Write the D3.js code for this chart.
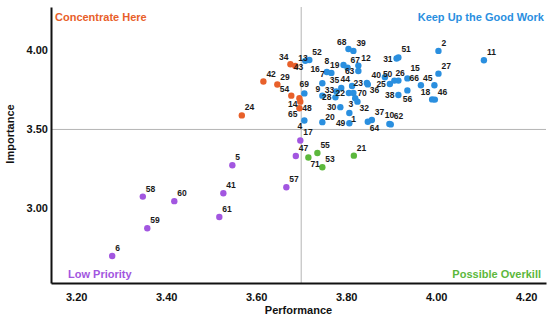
<!DOCTYPE html>
<html>
<head>
<meta charset="utf-8">
<script src="https://cdn.jsdelivr.net/npm/d3@7"></script>
<style>
  body { margin: 0; background: #fff; }
  svg { display: block; font-family: Arial, "Liberation Sans", sans-serif; }
</style>
</head>
<body>
<svg id="chart" width="550" height="320"></svg>
<script>
// item numbers, mean performance and mean importance
const ids = d3.range(1, 72);
const performance = [
  3.807, 4.005, 3.820, 3.707, 3.547, 3.280, 3.747, 3.767, 3.747, 3.896,
  4.106, 3.827, 3.687, 3.696, 3.936, 3.757, 3.698, 3.991, 3.794, 3.747,
  3.817, 3.806, 3.846, 3.568, 3.897, 3.916, 4.005, 3.776, 3.647, 3.787,
  3.912, 3.825, 3.778, 3.676, 3.789, 3.848, 3.857, 3.916, 3.816, 3.886,
  3.527, 3.616, 3.709, 3.813, 3.996, 3.997, 3.688, 3.698, 3.807, 3.907,
  3.916, 3.718, 3.747, 3.678, 3.736, 3.936, 3.667, 3.348, 3.358, 3.418,
  3.518, 3.899, 3.827, 3.848, 3.696, 3.966, 3.803, 3.805, 3.707, 3.816,
  3.716,
];
const importance = [
  3.604, 3.997, 3.697, 3.557, 3.273, 2.699, 3.792, 3.858, 3.714, 3.535,
  3.938, 3.904, 3.902, 3.697, 3.823, 3.864, 3.430, 3.690, 3.908, 3.546,
  3.334, 3.731, 3.794, 3.589, 3.788, 3.809, 3.853, 3.703, 3.784, 3.641,
  3.949, 3.676, 3.741, 3.913, 3.763, 3.785, 3.560, 3.718, 3.997, 3.830,
  3.096, 3.803, 3.934, 3.775, 3.780, 3.689, 3.332, 3.676, 3.539, 3.809,
  3.956, 3.940, 3.261, 3.714, 3.351, 3.747, 3.134, 3.075, 2.875, 3.046,
  2.946, 3.532, 3.870, 3.549, 3.634, 3.780, 3.891, 4.009, 3.728, 3.731,
  3.322,
];
const xTicks = [3.2, 3.4, 3.6, 3.8, 4.0, 4.2];
const yTicks = [3.0, 3.5, 4.0];
const cutPerformance = 3.70;
const cutImportance = 3.50;
const quadrantNames = ['Concentrate Here', 'Keep Up the Good Work', 'Low Priority', 'Possible Overkill'];

// which side of its dot each number sits on (default: upper right)
const labelLeft = [54, 34, 66, 45, 18, 9, 44, 35, 68, 50];
const labelLeftLevel = [28, 22, 49, 30, 19, 63, 40, 25, 38, 23, 16, 31];
const labelLeftHigh = [33, 8];
const labelRightLevel = [70];
const labelBelowLeft = [14, 65, 43, 4, 3];
const labelBelowRight = [48, 1, 64, 32, 36, 71];
const labelAbove = [69, 7, 10];
const labelBelow = [56];
// small extra shifts where numbers crowd each other
const labelNudge = {
  16: [-3, -3], 20: [0, 3], 26: [-6, 0], 15: [0, -2], 40: [0, -2], 35: [0, -1], 33: [0, 1.5],
};

const colors = ['#e8602a', '#2a8fdf', '#a256e0', '#5cb83c'];

const svg = d3.select('#chart');
const plotLeft = 51;
const plotRight = 546;
const plotTop = 7;
const plotBottom = 283;

const x = d3.scaleLinear().domain([3.144, 4.244]).range([plotLeft, plotRight]);
const y = d3.scaleLinear().domain([2.528, 4.275]).range([plotBottom, plotTop]);

const points = ids.map((id, i) => ({ id, p: performance[i], imp: importance[i] }));

function quadrant(d) {
  if (d.p < cutPerformance) return d.imp >= cutImportance ? 0 : 2;
  return d.imp >= cutImportance ? 1 : 3;
}

function labelStyle(id) {
  let s = { dx: 3, dy: -5, anchor: 'start' };
  if (labelLeft.includes(id)) s = { dx: -2, dy: -4, anchor: 'end' };
  else if (labelLeftLevel.includes(id)) s = { dx: -4, dy: 3, anchor: 'end' };
  else if (labelLeftHigh.includes(id)) s = { dx: -2, dy: id === 8 ? -9 : 0, anchor: 'end' };
  else if (labelRightLevel.includes(id)) s = { dx: 4, dy: 3, anchor: 'start' };
  else if (labelBelowLeft.includes(id)) s = { dx: -2, dy: 9, anchor: 'end' };
  else if (labelBelowRight.includes(id)) s = { dx: 2, dy: 9, anchor: 'start' };
  else if (labelAbove.includes(id)) s = { dx: 0, dy: -6, anchor: 'middle' };
  else if (labelBelow.includes(id)) s = { dx: 0, dy: 12, anchor: 'middle' };
  if (labelNudge[id]) {
    s.dx += labelNudge[id][0];
    s.dy += labelNudge[id][1];
  }
  return s;
}

// quadrant dividers
svg.append('line')
  .attr('x1', x(cutPerformance)).attr('x2', x(cutPerformance))
  .attr('y1', plotTop).attr('y2', plotBottom)
  .attr('stroke', '#b4b4b4').attr('stroke-width', 1);
svg.append('line')
  .attr('x1', plotLeft).attr('x2', plotRight)
  .attr('y1', y(cutImportance)).attr('y2', y(cutImportance))
  .attr('stroke', '#b4b4b4').attr('stroke-width', 1);

// axes
const xAxis = svg.append('g')
  .attr('transform', `translate(0,${plotBottom})`)
  .call(d3.axisBottom(x).tickValues(xTicks).tickFormat(d3.format('.2f')).tickSize(0).tickPadding(10));
const yAxis = svg.append('g')
  .attr('transform', `translate(${plotLeft},0)`)
  .call(d3.axisLeft(y).tickValues(yTicks).tickFormat(d3.format('.2f')).tickSize(0).tickPadding(3));

[xAxis, yAxis].forEach((g) => {
  g.select('.domain').attr('stroke', '#111').attr('stroke-width', 2);
  g.selectAll('text')
    .attr('font-family', 'Arial, "Liberation Sans", sans-serif')
    .attr('font-size', 11)
    .attr('font-weight', 'bold')
    .attr('fill', '#111');
});

svg.append('text')
  .attr('x', (plotLeft + plotRight) / 2)
  .attr('y', 314)
  .attr('text-anchor', 'middle')
  .attr('font-size', 11)
  .attr('font-weight', 'bold')
  .attr('fill', '#111')
  .text('Performance');

svg.append('text')
  .attr('transform', 'translate(14,134) rotate(-90)')
  .attr('text-anchor', 'middle')
  .attr('font-size', 11)
  .attr('font-weight', 'bold')
  .attr('fill', '#111')
  .text('Importance');

// quadrant captions
const captions = [
  { x: 55, y: 21, anchor: 'start' },
  { x: 544, y: 21, anchor: 'end' },
  { x: 68, y: 278, anchor: 'start' },
  { x: 541, y: 278, anchor: 'end' },
];
svg.append('g').selectAll('text')
  .data(quadrantNames)
  .enter().append('text')
  .attr('x', (d, i) => captions[i].x)
  .attr('y', (d, i) => captions[i].y)
  .attr('text-anchor', (d, i) => captions[i].anchor)
  .attr('font-size', 11)
  .attr('font-weight', 'bold')
  .attr('fill', (d, i) => colors[i])
  .text(d => d);

// dots
svg.append('g').selectAll('circle')
  .data(points)
  .enter().append('circle')
  .attr('cx', d => x(d.p))
  .attr('cy', d => y(d.imp))
  .attr('r', 3.2)
  .attr('fill', d => colors[quadrant(d)]);

// item numbers
svg.append('g').selectAll('text')
  .data(points)
  .enter().append('text')
  .each(function (d) {
    const s = labelStyle(d.id);
    d3.select(this)
      .attr('x', x(d.p) + s.dx)
      .attr('y', y(d.imp) + s.dy)
      .attr('text-anchor', s.anchor);
  })
  .attr('font-size', 8.5)
  .attr('font-weight', 'bold')
  .attr('fill', '#1a1a1a')
  .text(d => d.id);
</script>
</body>
</html>
